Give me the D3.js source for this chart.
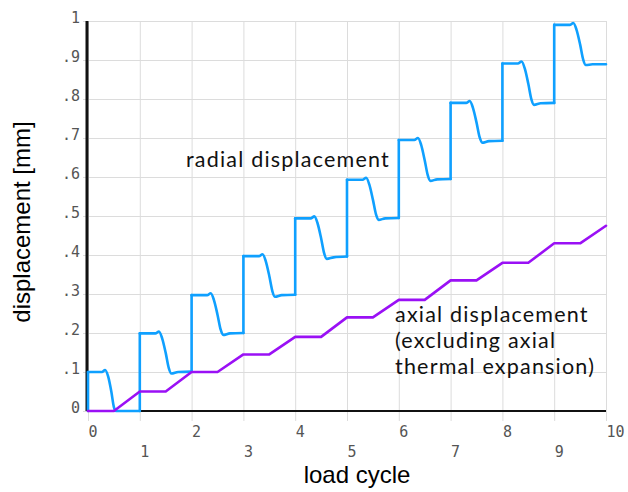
<!DOCTYPE html>
<html>
<head>
<meta charset="utf-8">
<script src="https://cdn.jsdelivr.net/npm/d3@7"></script>
<style>
  body { margin: 0; background: #fff; }
  svg { display: block; }
</style>
</head>
<body>
<svg class="chart" width="628" height="492"></svg>
<script>
// tick labels
var xTicks = [0, 1, 2, 3, 4, 5, 6, 7, 8, 9, 10];
var yTicks = [0, 0.1, 0.2, 0.3, 0.4, 0.5, 0.6, 0.7, 0.8, 0.9, 1];
var yTickLabels = ["0", ".1", ".2", ".3", ".4", ".5", ".6", ".7", ".8", ".9", "1"];

// radial displacement, one row per load cycle: [load cycle, mm]
var radialCycles = [
  [[0, .100], [0.27, .100], [0.33, .105], [0.39, .088], [0.45, .050], [0.50, .010], [0.54, .000], [0.75, .000], [1, .000]],
  [[1, .199], [1.30, .199], [1.37, .204], [1.43, .187], [1.50, .149], [1.56, .110], [1.61, .096], [1.74, .100], [2, .101]],
  [[2, .297], [2.30, .297], [2.37, .302], [2.43, .285], [2.50, .247], [2.56, .209], [2.61, .195], [2.74, .199], [3, .200]],
  [[3, .397], [3.30, .397], [3.37, .402], [3.43, .385], [3.50, .346], [3.56, .307], [3.61, .293], [3.74, .297], [4, .298]],
  [[4, .494], [4.30, .494], [4.37, .499], [4.43, .482], [4.50, .443], [4.56, .404], [4.61, .390], [4.74, .394], [5, .396]],
  [[5, .593], [5.30, .593], [5.37, .598], [5.43, .581], [5.50, .542], [5.56, .504], [5.61, .490], [5.74, .494], [6, .495]],
  [[6, .695], [6.30, .695], [6.37, .700], [6.43, .683], [6.50, .643], [6.56, .604], [6.61, .590], [6.74, .594], [7, .595]],
  [[7, .790], [7.30, .790], [7.37, .795], [7.43, .778], [7.50, .740], [7.56, .702], [7.61, .688], [7.74, .692], [8, .693]],
  [[8, .891], [8.30, .891], [8.37, .896], [8.43, .879], [8.50, .839], [8.56, .799], [8.61, .785], [8.74, .789], [9, .790]],
  [[9, .990], [9.30, .990], [9.37, .995], [9.43, .978], [9.50, .940], [9.56, .901], [9.61, .887], [9.74, .889], [10, .889]]
];

// axial displacement (excluding axial thermal expansion)
var axialX = [0, 0.5, 1, 1.5, 2, 2.5, 3, 3.5, 4, 4.5, 5, 5.5, 6, 6.5, 7, 7.5, 8, 8.5, 9, 9.5, 10];
var axialY = [0, 0, .050, .050, .100, .100, .145, .145, .190, .190, .240, .240, .285, .285, .335, .335, .380, .380, .430, .430, .475];

var svg = d3.select("svg.chart");

var x = d3.scaleLinear().domain([0, 10]).range([88, 606]);
var y = d3.scaleLinear().domain([0, 1]).range([411, 21]);

var blue = "#0fa0ff";
var purple = "#9a10f5";

// grid (vertical lines run a bit below the axis like ticks)
svg.append("g")
  .attr("transform", "translate(0,421)")
  .call(d3.axisTop(x).tickValues(xTicks).tickSize(400).tickFormat(""))
  .call(g => g.select(".domain").remove())
  .call(g => g.selectAll("line").attr("stroke", "#dcdcdc"));

svg.append("g")
  .attr("transform", "translate(83,0)")
  .call(d3.axisRight(y).tickValues(yTicks).tickSize(523).tickFormat(""))
  .call(g => g.select(".domain").remove())
  .call(g => g.selectAll("line").attr("stroke", "#dcdcdc"));

// y tick labels
svg.append("g")
  .attr("transform", "translate(80,-3)")
  .call(d3.axisLeft(y).tickValues(yTicks).tickSize(0).tickPadding(0)
    .tickFormat((d, i) => yTickLabels[i]))
  .call(g => g.select(".domain").remove())
  .call(g => g.selectAll("text")
    .attr("fill", "#555")
    .style("font-family", "'DejaVu Sans Mono', monospace")
    .style("font-size", "15px"));

// x tick labels, odd ones on a second row
svg.append("g")
  .attr("transform", "translate(0,411)")
  .call(d3.axisBottom(x).tickValues(xTicks).tickSize(0).tickFormat(d3.format("d")))
  .call(g => g.select(".domain").remove())
  .call(g => g.selectAll("text")
    .attr("y", d => d % 2 === 0 ? 21 : 41)
    .attr("dy", "0.35em")
    .attr("text-anchor", "start")
    .attr("fill", "#555")
    .style("font-family", "'DejaVu Sans Mono', monospace")
    .style("font-size", "15px"));

// axis lines
svg.append("line")
  .attr("x1", x(0)).attr("x2", x(10)).attr("y1", y(0)).attr("y2", y(0))
  .attr("stroke", "#111").attr("stroke-width", 2);
svg.append("line")
  .attr("x1", x(0) - 1).attr("x2", x(0) - 1).attr("y1", y(1)).attr("y2", y(0))
  .attr("stroke", "#111").attr("stroke-width", 3);

// radial line: smooth inside each cycle, vertical jump at each cycle start
var smooth = d3.line()
  .x(d => x(d[0])).y(d => y(d[1]))
  .curve(d3.curveMonotoneX);

var jumps = radialCycles.map(function(c, i) {
  var from = i === 0 ? [0, 0] : radialCycles[i - 1][radialCycles[i - 1].length - 1];
  return [[c[0][0], from[1]], c[0]];
});

svg.append("g").selectAll("path.jump")
  .data(jumps)
  .enter().append("path")
  .attr("class", "jump")
  .attr("d", d3.line().x(d => x(d[0])).y(d => y(d[1])))
  .attr("fill", "none").attr("stroke", blue).attr("stroke-width", 2.6)
  .attr("stroke-linecap", "round");

svg.append("g").selectAll("path.cycle")
  .data(radialCycles)
  .enter().append("path")
  .attr("class", "cycle")
  .attr("d", smooth)
  .attr("fill", "none").attr("stroke", blue).attr("stroke-width", 2.6)
  .attr("stroke-linecap", "round").attr("stroke-linejoin", "round");

// axial line
svg.append("path")
  .datum(axialX.map((d, i) => [d, axialY[i]]))
  .attr("d", d3.line().x(d => x(d[0])).y(d => y(d[1])))
  .attr("fill", "none").attr("stroke", purple).attr("stroke-width", 2.6)
  .attr("stroke-linecap", "round").attr("stroke-linejoin", "round");

// labels
var note = "Lato, 'Open Sans', sans-serif";
svg.append("text")
  .attr("x", 186).attr("y", 167)
  .style("font-family", note).style("font-size", "21.5px").style("letter-spacing", "1.2px")
  .attr("fill", "#111")
  .text("radial displacement");

var axialLines = ["axial displacement", "(excluding axial", "thermal expansion)"];
svg.append("g").selectAll("text")
  .data(axialLines)
  .enter().append("text")
  .attr("x", 395).attr("y", (d, i) => 322 + i * 26)
  .style("font-family", note).style("font-size", "21.5px").style("letter-spacing", "1.2px")
  .attr("fill", "#111")
  .text(d => d);

var title = "'Liberation Sans', Arial, sans-serif";
svg.append("text")
  .attr("x", 357).attr("y", 483)
  .attr("text-anchor", "middle")
  .style("font-family", title).style("font-size", "24px").attr("fill", "#000")
  .text("load cycle");

svg.append("text")
  .attr("transform", "translate(30,222) rotate(-90)")
  .attr("text-anchor", "middle")
  .style("font-family", title).style("font-size", "24px").attr("fill", "#000")
  .text("displacement [mm]");
</script>
</body>
</html>
